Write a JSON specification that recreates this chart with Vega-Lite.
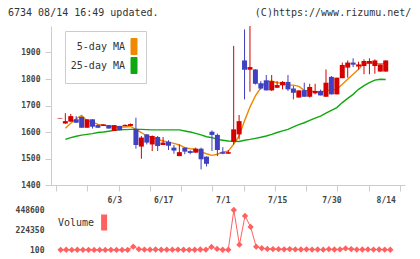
{
  "$schema": "https://vega.github.io/schema/vega-lite/v6.json",
  "background": "white",
  "padding": {"left": 8, "top": 7, "right": 0, "bottom": 0},
  "title": {"text": "6734 08/14 16:49 updated.\u00a0\u00a0\u00a0\u00a0\u00a0\u00a0\u00a0\u00a0\u00a0\u00a0\u00a0\u00a0\u00a0\u00a0\u00a0\u00a0(C)https://www.rizumu.net/", "anchor": "start", "frame": "group", "dx": -43, "offset": 8, "font": "DejaVu Sans Mono", "fontSize": 10, "fontWeight": "normal", "color": "#333"},
  "config": {"view": {"stroke": null}, "font": "DejaVu Sans Mono"},
  "spacing": 25,
  "bounds": "flush",
  "resolve": {"scale": {"fill": "independent"}, "legend": {"fill": "independent"}},
  "data": {"values": [
    {"i":0,"d":"5/20","o":1651,"h":1653,"l":1651,"c":1653,"m5":null,"m25":null,"v":null},
    {"i":1,"d":"5/21","o":1632,"h":1671,"l":1631,"c":1641,"m5":1614,"m25":1572,"v":2000},
    {"i":2,"d":"5/22","o":1639,"h":1668,"l":1639,"c":1660,"m5":1633,"m25":1579,"v":3000},
    {"i":3,"d":"5/23","o":1648,"h":1660,"l":1635,"c":1635,"m5":1650,"m25":1584,"v":1500},
    {"i":4,"d":"5/26","o":1657,"h":1659,"l":1616,"c":1616,"m5":1663,"m25":1588,"v":2500},
    {"i":5,"d":"5/27","o":1616,"h":1648,"l":1616,"c":1648,"m5":1642,"m25":1591,"v":2000},
    {"i":6,"d":"5/28","o":1648,"h":1648,"l":1613,"c":1620,"m5":1638,"m25":1594,"v":1800},
    {"i":7,"d":"5/29","o":1626,"h":1629,"l":1616,"c":1616,"m5":1629,"m25":1598,"v":1200},
    {"i":8,"d":"5/30","o":1623,"h":1629,"l":1623,"c":1629,"m5":1625,"m25":1600,"v":900},
    {"i":9,"d":"6/2","o":1626,"h":1626,"l":1613,"c":1613,"m5":1623,"m25":1603,"v":1500},
    {"i":10,"d":"6/3","o":1604,"h":1626,"l":1604,"c":1626,"m5":1619,"m25":1606,"v":2000},
    {"i":11,"d":"6/4","o":1623,"h":1623,"l":1606,"c":1606,"m5":1619,"m25":1609,"v":1000},
    {"i":12,"d":"6/5","o":1622,"h":1628,"l":1622,"c":1627,"m5":1619,"m25":1609,"v":800},
    {"i":13,"d":"6/6","o":1623,"h":1632,"l":1623,"c":1630,"m5":1621,"m25":1610,"v":1200},
    {"i":14,"d":"6/9","o":1612,"h":1654,"l":1537,"c":1551,"m5":1610,"m25":1610,"v":37000},
    {"i":15,"d":"6/10","o":1545,"h":1585,"l":1499,"c":1579,"m5":1598,"m25":1610,"v":9000},
    {"i":16,"d":"6/11","o":1591,"h":1592,"l":1553,"c":1560,"m5":1585,"m25":1609,"v":5000},
    {"i":17,"d":"6/12","o":1553,"h":1587,"l":1528,"c":1585,"m5":1579,"m25":1608,"v":4000},
    {"i":18,"d":"6/13","o":1581,"h":1585,"l":1528,"c":1547,"m5":1572,"m25":1608,"v":6000},
    {"i":19,"d":"6/16","o":1551,"h":1581,"l":1551,"c":1560,"m5":1566,"m25":1608,"v":3000},
    {"i":20,"d":"6/17","o":1563,"h":1569,"l":1532,"c":1548,"m5":1562,"m25":1608,"v":4000},
    {"i":21,"d":"6/18","o":1541,"h":1551,"l":1518,"c":1530,"m5":1557,"m25":1608,"v":3500},
    {"i":22,"d":"6/19","o":1509,"h":1553,"l":1509,"c":1524,"m5":1551,"m25":1608,"v":5000},
    {"i":23,"d":"6/20","o":1541,"h":1542,"l":1516,"c":1526,"m5":1541,"m25":1604,"v":2500},
    {"i":24,"d":"6/23","o":1528,"h":1531,"l":1516,"c":1521,"m5":1537,"m25":1600,"v":2000},
    {"i":25,"d":"6/24","o":1522,"h":1541,"l":1522,"c":1537,"m5":1535,"m25":1595,"v":3000},
    {"i":26,"d":"6/25","o":1537,"h":1541,"l":1459,"c":1497,"m5":1525,"m25":1589,"v":6000},
    {"i":27,"d":"6/26","o":1507,"h":1508,"l":1470,"c":1480,"m5":1518,"m25":1582,"v":4000},
    {"i":28,"d":"6/27","o":1601,"h":1606,"l":1528,"c":1589,"m5":1512,"m25":1579,"v":35000},
    {"i":29,"d":"6/30","o":1589,"h":1594,"l":1509,"c":1532,"m5":1516,"m25":1572,"v":12000},
    {"i":30,"d":"7/1","o":1524,"h":1543,"l":1516,"c":1518,"m5":1525,"m25":1569,"v":3000},
    {"i":31,"d":"7/2","o":1518,"h":1532,"l":1518,"c":1524,"m5":1528,"m25":1566,"v":2500},
    {"i":32,"d":"7/3","o":1563,"h":1925,"l":1553,"c":1610,"m5":1554,"m25":1565,"v":448600},
    {"i":33,"d":"7/4","o":1591,"h":1664,"l":1572,"c":1641,"m5":1585,"m25":1564,"v":60000},
    {"i":34,"d":"7/7","o":1870,"h":1987,"l":1723,"c":1835,"m5":1642,"m25":1569,"v":382000},
    {"i":35,"d":"7/8","o":1835,"h":2000,"l":1752,"c":1845,"m5":1694,"m25":1572,"v":259000},
    {"i":36,"d":"7/9","o":1836,"h":1837,"l":1779,"c":1782,"m5":1736,"m25":1576,"v":37000},
    {"i":37,"d":"7/10","o":1784,"h":1792,"l":1760,"c":1764,"m5":1767,"m25":1580,"v":20000},
    {"i":38,"d":"7/11","o":1795,"h":1815,"l":1757,"c":1757,"m5":1790,"m25":1585,"v":12000},
    {"i":39,"d":"7/14","o":1757,"h":1815,"l":1755,"c":1792,"m5":1793,"m25":1591,"v":10000},
    {"i":40,"d":"7/15","o":1767,"h":1792,"l":1767,"c":1777,"m5":1786,"m25":1598,"v":9000},
    {"i":41,"d":"7/16","o":1776,"h":1792,"l":1761,"c":1789,"m5":1784,"m25":1604,"v":8000},
    {"i":42,"d":"7/17","o":1789,"h":1815,"l":1755,"c":1761,"m5":1777,"m25":1610,"v":10000},
    {"i":43,"d":"7/18","o":1764,"h":1774,"l":1723,"c":1748,"m5":1777,"m25":1619,"v":7000},
    {"i":44,"d":"7/22","o":1730,"h":1757,"l":1730,"c":1757,"m5":1772,"m25":1628,"v":6000},
    {"i":45,"d":"7/23","o":1758,"h":1786,"l":1733,"c":1733,"m5":1757,"m25":1635,"v":8000},
    {"i":46,"d":"7/24","o":1733,"h":1782,"l":1730,"c":1770,"m5":1755,"m25":1644,"v":5000},
    {"i":47,"d":"7/25","o":1746,"h":1782,"l":1742,"c":1755,"m5":1752,"m25":1652,"v":6000},
    {"i":48,"d":"7/28","o":1755,"h":1760,"l":1738,"c":1738,"m5":1752,"m25":1660,"v":4000},
    {"i":49,"d":"7/29","o":1733,"h":1836,"l":1733,"c":1786,"m5":1755,"m25":1671,"v":9000},
    {"i":50,"d":"7/30","o":1808,"h":1811,"l":1742,"c":1742,"m5":1759,"m25":1682,"v":6000},
    {"i":51,"d":"7/31","o":1742,"h":1805,"l":1742,"c":1805,"m5":1761,"m25":1692,"v":7000},
    {"i":52,"d":"8/1","o":1803,"h":1862,"l":1803,"c":1853,"m5":1780,"m25":1711,"v":18000},
    {"i":53,"d":"8/4","o":1843,"h":1870,"l":1805,"c":1862,"m5":1799,"m25":1727,"v":10000},
    {"i":54,"d":"8/5","o":1862,"h":1878,"l":1845,"c":1854,"m5":1818,"m25":1742,"v":5000},
    {"i":55,"d":"8/6","o":1847,"h":1865,"l":1836,"c":1855,"m5":1837,"m25":1761,"v":6000},
    {"i":56,"d":"8/7","o":1849,"h":1874,"l":1818,"c":1868,"m5":1858,"m25":1775,"v":7000},
    {"i":57,"d":"8/8","o":1858,"h":1878,"l":1818,"c":1868,"m5":1861,"m25":1786,"v":5000},
    {"i":58,"d":"8/12","o":1849,"h":1874,"l":1820,"c":1870,"m5":1858,"m25":1796,"v":6000},
    {"i":59,"d":"8/13","o":1828,"h":1855,"l":1828,"c":1855,"m5":1858,"m25":1799,"v":4000},
    {"i":60,"d":"8/14","o":1828,"h":1870,"l":1828,"c":1870,"m5":1858,"m25":1798,"v":3000}
  ]},
  "vconcat": [
    {
      "width": 354,
      "height": 159,
      "encoding": {
        "x": {"field": "i", "type": "quantitative", "scale": {"domain": [-0.72, 62.63], "nice": false, "zero": false},
          "axis": {"title": null, "grid": false,
            "values": [-0.72, 5.039, 10, 10.798, 16.557, 19, 22.316, 28.075, 30, 33.834, 39.593, 40, 45.352, 50, 51.111, 56.87, 60, 62.63],
            "labelExpr": "datum.value == 10 ? '6/3' : datum.value == 19 ? '6/17' : datum.value == 30 ? '7/1' : datum.value == 40 ? '7/15' : datum.value == 50 ? '7/30' : datum.value == 60 ? '8/14' : ''",
            "tickOpacity": {"condition": {"test": "datum.value % 1 != 0", "value": 1}, "value": 0},
            "domainColor": "#cccccc", "tickColor": "#cccccc", "tickSize": 6, "labelPadding": 5,
            "labelFlush": false, "labelOverlap": false, "labelFont": "DejaVu Sans Mono", "labelFontSize": 8,
            "labelFontWeight": "bold", "labelColor": "#444444"}}
      },
      "layer": [
        {
          "transform": [{"fold": ["m5", "m25"], "as": ["key", "val"]}],
          "mark": {"type": "line", "strokeWidth": 1.4},
          "encoding": {
            "y": {"field": "val", "type": "quantitative", "scale": {"domain": [1400, 2000], "nice": false, "zero": false},
              "axis": {"title": null, "grid": false, "values": [1400, 1500, 1600, 1700, 1800, 1900], "format": "d", "labelOverlap": false,
                "domainColor": "#cccccc", "tickColor": "#cccccc", "tickSize": 6, "labelPadding": 5,
                "labelFont": "DejaVu Sans Mono", "labelFontSize": 8, "labelFontWeight": "bold", "labelColor": "#444444"}},
            "stroke": {"field": "key", "type": "nominal",
              "scale": {"domain": ["m5", "m25"], "range": ["#f08800", "#10a810"]},
              "legend": {"orient": "none", "legendX": 14, "legendY": 5, "title": null,
                "symbolType": "M-0.375,-1H0.375V1H-0.375Z", "symbolSize": 256, "symbolStrokeWidth": 1,
                "symbolOffset": 53.5,
                "labelAlign": "right", "labelOffset": -17.5, "labelFont": "DejaVu Sans Mono", "labelFontSize": 10,
                "labelColor": "#333333", "strokeColor": "#cccccc", "fillColor": "white", "padding": 7, "rowPadding": -3,
                "labelExpr": "datum.label == 'm5' ? '5-day MA' : '25-day MA'",
                "encode": {"symbols": {"update": {"fill": {"scale": "stroke", "field": "value"}, "stroke": {"value": "#333333"}, "strokeWidth": {"value": 1}, "opacity": {"value": 1}}}}}}
          }
        },
        {
          "mark": {"type": "rule", "strokeWidth": 1},
          "encoding": {
            "y": {"field": "l", "type": "quantitative",
              "axis": {"title": null, "grid": false, "values": [1400, 1500, 1600, 1700, 1800, 1900], "format": "d", "labelOverlap": false,
                "domainColor": "#cccccc", "tickColor": "#cccccc", "tickSize": 6, "labelPadding": 5,
                "labelFont": "DejaVu Sans Mono", "labelFontSize": 8, "labelFontWeight": "bold", "labelColor": "#444444"}},
            "y2": {"field": "h"},
            "stroke": {"condition": {"test": "datum.c >= datum.o", "value": "#d40000"}, "value": "#4040c0"}
          }
        },
        {
          "mark": {"type": "bar", "width": 5},
          "encoding": {
            "y": {"field": "o", "type": "quantitative",
              "axis": {"title": null, "grid": false, "values": [1400, 1500, 1600, 1700, 1800, 1900], "format": "d", "labelOverlap": false,
                "domainColor": "#cccccc", "tickColor": "#cccccc", "tickSize": 6, "labelPadding": 5,
                "labelFont": "DejaVu Sans Mono", "labelFontSize": 8, "labelFontWeight": "bold", "labelColor": "#444444"}},
            "y2": {"field": "c"},
            "fill": {"condition": {"test": "datum.c >= datum.o", "value": "#d40000"}, "value": "#4040c0"}
          }
        }
      ]
    },
    {
      "width": 354,
      "height": 40,
      "encoding": {
        "x": {"field": "i", "type": "quantitative", "scale": {"domain": [-0.72, 62.63], "nice": false, "zero": false}, "axis": null},
        "y": {"field": "v", "type": "quantitative", "scale": {"domain": [100, 448600], "nice": false, "zero": false},
          "axis": {"title": null, "grid": false, "domain": false, "ticks": false, "values": [100, 224350, 448600], "format": "d", "labelOverlap": false,
            "labelPadding": 7, "labelFont": "DejaVu Sans Mono", "labelFontSize": 8, "labelFontWeight": "bold", "labelColor": "#444444"}}
      },
      "layer": [
        {"mark": {"type": "line", "stroke": "#ff6060", "strokeWidth": 1}, "encoding": {}},
        {
          "mark": {"type": "point", "shape": "diamond", "filled": true, "size": 40, "opacity": 1},
          "encoding": {
            "fill": {"datum": "Volume", "scale": {"range": ["#ff6060"]},
              "legend": {"orient": "none", "legendX": 7, "legendY": 4, "title": null,
                "symbolType": "M-0.375,-1H0.375V1H-0.375Z", "symbolSize": 256, "symbolStrokeWidth": 1,
                "symbolOffset": 37.6,
                "labelAlign": "right", "labelOffset": -18.5, "labelFont": "DejaVu Sans Mono", "labelFontSize": 10,
                "labelColor": "#333333", "padding": 0,
                "encode": {"symbols": {"update": {"stroke": {"value": "#333333"}, "strokeWidth": {"value": 1}, "opacity": {"value": 1}}}}}}
          }
        }
      ]
    }
  ]
}
